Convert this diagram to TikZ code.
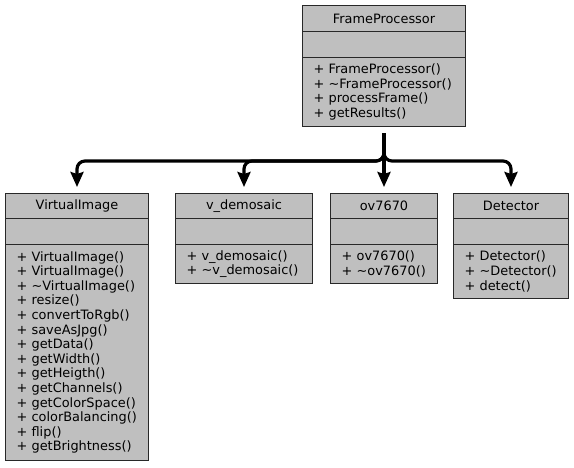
\documentclass[tikz,border=0pt]{standalone}
\usepackage{fontspec}
\setmainfont{DejaVu Sans}
\usetikzlibrary{arrows.meta}
\definecolor{boxgray}{RGB}{191,191,191}
\definecolor{boxline}{RGB}{40,40,40}

\begin{document}
\begin{tikzpicture}[x=1pt,y=1pt]
                \tikzstyle{sect}=[draw=boxline, fill=boxgray, line width=1pt, anchor=north west, inner sep=0pt, font=\fontsize{12.9}{14.6}\selectfont]
                \tikzstyle{head}=[sect, align=center, minimum height=26pt]
                \tikzstyle{attr}=[sect, minimum height=26pt]
                \tikzstyle{ops}=[sect, align=left, inner xsep=11pt]
                \tikzstyle{edge}=[line width=3.2pt, rounded corners=8pt, shorten <=6pt, shorten >=6pt, -{Stealth[length=15pt,width=13pt,inset=2pt]}]

                \useasboundingbox (0,0) rectangle (574,-467);

                \node[head, minimum width=163pt] (fp) at (302,-5) {FrameProcessor};
                \node[attr, minimum width=163pt] (fpa) at (302,-31) {};
                \node[ops, text width=141pt, minimum height=69pt] (fpm) at (302,-57) {+ FrameProcessor()\\+ \textasciitilde FrameProcessor()\\+ processFrame()\\+ getResults()};

                \node[head, minimum width=143pt, minimum height=25pt] (vi) at (5,-193) {VirtualImage};
                \node[attr, minimum width=143pt] (via) at (5,-218) {};
                \node[ops, text width=121pt, minimum height=216pt] (vim) at (5,-244) {+ VirtualImage()\\+ VirtualImage()\\+ \textasciitilde VirtualImage()\\+ resize()\\+ convertToRgb()\\+ saveAsJpg()\\+ getData()\\+ getWidth()\\+ getHeigth()\\+ getChannels()\\+ getColorSpace()\\+ colorBalancing()\\+ flip()\\+ getBrightness()};

                \node[head, minimum width=137pt, minimum height=25pt] (dm) at (175,-193) {v\_demosaic};
                \node[attr, minimum width=137pt] (dma) at (175,-218) {};
                \node[ops, text width=115pt, minimum height=39pt] (dmm) at (175,-244) {+ v\_demosaic()\\+ \textasciitilde v\_demosaic()};

                \node[head, minimum width=107pt, minimum height=25pt] (ov) at (330,-193) {ov7670};
                \node[attr, minimum width=107pt] (ova) at (330,-218) {};
                \node[ops, text width=85pt, minimum height=39pt] (ovm) at (330,-244) {+ ov7670()\\+ \textasciitilde ov7670()};

                \node[head, minimum width=115pt, minimum height=25pt] (det) at (453,-193) {Detector};
                \node[attr, minimum width=115pt] (deta) at (453,-218) {};
                \node[ops, text width=93pt, minimum height=54pt] (detm) at (453,-244) {+ Detector()\\+ \textasciitilde Detector()\\+ detect()};

                \draw[edge] (fpm.south) -- ++(0,-34) -| (vi.north);
                \draw[edge] (fpm.south) -- ++(0,-34) -| (dm.north);
                \draw[edge] (fpm.south) -- (ov.north);
                \draw[edge] (fpm.south) -- ++(0,-34) -| (det.north);
            \end{tikzpicture}
\end{document}
